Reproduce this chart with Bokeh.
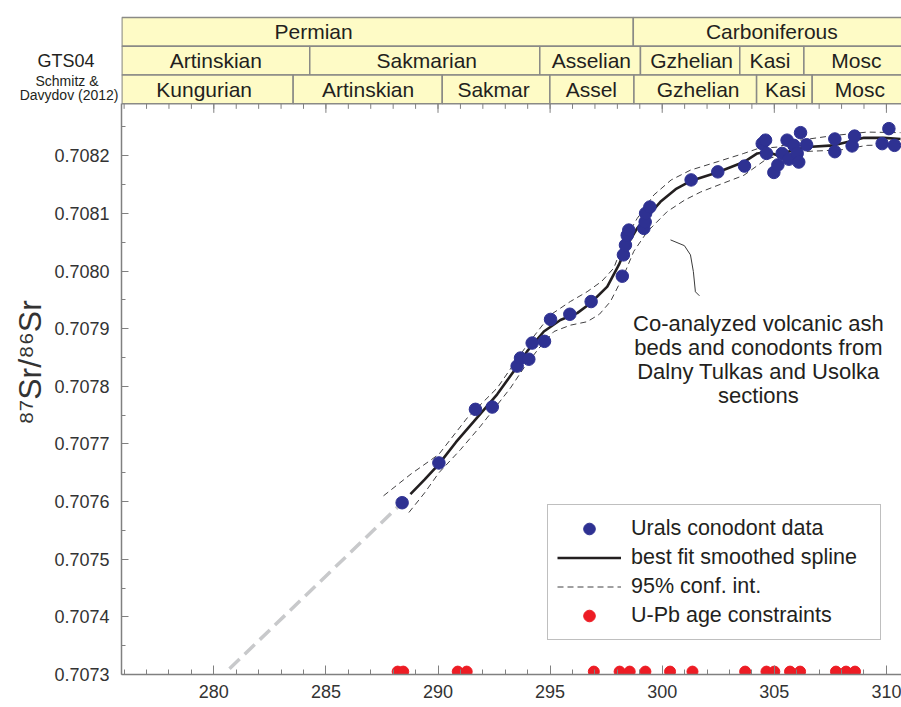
import json
import numpy as np
from bokeh.plotting import figure
from bokeh.models import (ColumnDataSource, FixedTicker, PrintfTickFormatter,
                          CustomJSTickFormatter, LinearAxis, Label, Legend, LegendItem)
from bokeh.core.properties import value
from bokeh.embed import file_html
from bokeh.resources import INLINE

# ---------------- data ----------------
# Urals conodont data (age Ma, 87Sr/86Sr)
cono_age = [288.40, 290.04, 291.67, 292.42, 293.53, 293.68, 294.05, 294.20, 294.75,
            295.02, 295.88, 296.83, 298.22, 298.27, 298.36, 298.44, 298.51, 299.18,
            299.24, 299.26, 299.45, 301.29, 302.48, 303.67, 304.46, 304.61, 304.65,
            304.98, 305.16, 305.35, 305.57, 305.65, 305.87, 306.02, 306.09, 306.17,
            306.44, 307.70, 307.70, 308.47, 308.58, 309.81, 310.11, 310.36]
cono_sr = [0.707598, 0.707667, 0.707760, 0.707764, 0.707835, 0.707849, 0.707847,
           0.707875, 0.707878, 0.707916, 0.707925, 0.707947, 0.707991, 0.708028,
           0.708045, 0.708062, 0.708071, 0.708074, 0.708085, 0.708100, 0.708111,
           0.708158, 0.708172, 0.708182, 0.708221, 0.708227, 0.708204, 0.708171,
           0.708184, 0.708204, 0.708227, 0.708194, 0.708218, 0.708204, 0.708189,
           0.708240, 0.708219, 0.708229, 0.708207, 0.708217, 0.708234, 0.708221,
           0.708247, 0.708218]

# best fit smoothed spline
spline_age = [288.77, 289.40, 290.04, 290.80, 291.60, 292.64, 293.38, 293.98, 294.72,
              295.46, 296.21, 296.80, 297.55, 298.07, 298.44, 298.88, 299.33, 299.92,
              300.60, 301.26, 302.45, 303.64, 304.24, 304.68, 305.13, 305.87, 306.47,
              307.65, 308.40, 308.99, 309.88, 310.63]
spline_sr = [0.707613, 0.707638, 0.707665, 0.707703, 0.707739, 0.707786, 0.707826,
             0.707861, 0.707895, 0.707915, 0.707927, 0.707944, 0.707973, 0.708011,
             0.708045, 0.708074, 0.708094, 0.708120, 0.708142, 0.708156, 0.708171,
             0.708189, 0.708204, 0.708207, 0.708201, 0.708210, 0.708215, 0.708218,
             0.708225, 0.708231, 0.708231, 0.708229]

# 95% confidence interval
upper_age = [287.57, 288.80, 290.04, 291.30, 292.64, 293.98, 295.02, 295.90, 296.65,
             297.30, 297.84, 298.29, 298.88, 299.63, 300.40, 301.26, 302.50, 303.64,
             304.24, 305.13, 306.17, 307.65, 309.14, 310.63]
upper_sr = [0.707610, 0.707648, 0.707682, 0.707745, 0.707797, 0.707872, 0.707924,
            0.707947, 0.707964, 0.707982, 0.708005, 0.708051, 0.708091, 0.708132,
            0.708158, 0.708175, 0.708190, 0.708204, 0.708212, 0.708215, 0.708227,
            0.708235, 0.708241, 0.708240]
lower_age = [288.70, 289.40, 290.04, 291.00, 291.90, 293.23, 293.83, 294.50, 295.17,
             295.90, 296.65, 297.20, 297.69, 298.29, 298.73, 299.33, 300.22, 301.00,
             301.71, 302.70, 303.64, 304.68, 306.17, 307.95, 309.14, 310.63]
lower_sr = [0.707581, 0.707615, 0.707650, 0.707690, 0.707731, 0.707797, 0.707832,
            0.707866, 0.707895, 0.707906, 0.707912, 0.707925, 0.707947, 0.707993,
            0.708034, 0.708068, 0.708103, 0.708123, 0.708137, 0.708152, 0.708166,
            0.708195, 0.708207, 0.708210, 0.708218, 0.708219]

# extrapolated trend (grey dashed)
extrap_age = [280.70, 288.40]
extrap_sr = [0.707310, 0.707598]

# U-Pb age constraints
upb_age = [288.20, 288.45, 290.88, 291.28, 296.95, 298.10, 298.55, 299.25, 300.35,
           301.35, 303.70, 304.65, 305.00, 305.70, 306.15, 307.75, 308.20, 308.60]
upb_sr = [0.707305] * len(upb_age)

# annotation pointer
pointer_age = [300.37, 300.99, 301.26, 301.39, 301.48, 301.66]
pointer_sr = [0.708054, 0.708044, 0.708028, 0.707999, 0.707964, 0.707957]

# time-scale header (boundaries in Ma)
period_names = ["Permian", "Carboniferous"]
period_start = [275.9, 298.71]
period_end = [298.71, 312.0]
period_label_x = [284.45, 304.89]

gts_names = ["Artinskian", "Sakmarian", "Asselian", "Gzhelian", "Kasi", "Mosc"]
gts_start = [275.9, 284.28, 294.54, 299.03, 303.46, 306.32]
gts_end = [284.28, 294.54, 299.03, 303.46, 306.32, 312.0]
gts_label_x = [280.09, 289.50, 296.84, 301.31, 304.81, 308.66]

sd_names = ["Kungurian", "Artinskian", "Sakmar", "Assel", "Gzhelian", "Kasi", "Mosc"]
sd_start = [275.9, 283.54, 290.19, 294.99, 298.74, 304.21, 306.69]
sd_end = [283.54, 290.19, 294.99, 298.74, 304.21, 306.69, 312.0]
sd_label_x = [279.57, 286.88, 292.48, 296.84, 301.60, 305.50, 308.82]

x_ticks = [280, 285, 290, 295, 300, 305, 310]
y_ticks = [0.7073, 0.7074, 0.7075, 0.7076, 0.7077, 0.7078, 0.7079, 0.7080, 0.7081, 0.7082]

# ---------------- styling / layout ----------------
FONT = "Liberation Sans"
TXT = "#231F20"
GRAY = "#808080"
X0, X1 = 275.883, 310.673
Y0, Y1 = 0.7073, 0.708445
HB = 0.70829      # bottom of header band (top of data area)
ROW = 0.00005     # header row height in data units
PX_Y = (Y1 - Y0) / 660.0  # data units per pixel (y)

p = figure(width=901, height=706, x_range=(X0, X1), y_range=(Y0, Y1),
           output_backend="svg", toolbar_location=None,
           min_border_left=121, min_border_right=0, min_border_top=14,
           min_border_bottom=32)
p.outline_line_color = None
p.xgrid.visible = False
p.ygrid.visible = False
p.background_fill_color = "white"

# header
rows = [(period_names, period_start, period_end, period_label_x, 2),
        (gts_names, gts_start, gts_end, gts_label_x, 1),
        (sd_names, sd_start, sd_end, sd_label_x, 0)]
for names, st, en, lx, r in rows:
    bottom = HB + r * ROW
    top = bottom + ROW
    src = ColumnDataSource(dict(left=st, right=en, name=names, lx=lx,
                                ly=[bottom + ROW / 2] * len(names),
                                bottom=[bottom] * len(names), top=[top] * len(names)))
    p.quad(left="left", right="right", bottom="bottom", top="top", source=src,
           fill_color="#FEFBC6", line_color="#8A8A86", line_width=1.5)
    p.text(x="lx", y="ly", text="name", source=src, text_font=value(FONT),
           text_font_size="21px", text_color=TXT, text_align="center",
           text_baseline="middle")

# ticks under header (inward)
minor_x = np.arange(276, 311, 1)
p.segment(x0=minor_x, x1=minor_x, y0=HB, y1=HB - 5 * PX_Y, line_color=GRAY, line_width=1)
p.segment(x0=x_ticks, x1=x_ticks, y0=HB, y1=HB - 9 * PX_Y, line_color=GRAY, line_width=1)

# data
p.line(extrap_age, extrap_sr, line_color="#C8C9CB", line_width=3.5, line_dash="14 7")
up = p.line(upper_age, upper_sr, line_color="#414042", line_width=1, line_dash="6 4")
p.line(lower_age, lower_sr, line_color="#414042", line_width=1, line_dash="6 4")
sp = p.line(spline_age, spline_sr, line_color=TXT, line_width=2.6)
bl = p.scatter(cono_age, cono_sr, size=12.5, fill_color="#2E3192", line_color="#2E3192")
rd = p.scatter(upb_age, upb_sr, size=11, fill_color="#ED1C24", line_color="#ED1C24")
p.line(pointer_age, pointer_sr, line_color="#3A3A3A", line_width=1)

# axes
xa = p.xaxis[0]
xa.ticker = FixedTicker(ticks=x_ticks, minor_ticks=list(minor_x))
ya = p.yaxis[0]
ya.ticker = FixedTicker(ticks=y_ticks,
                        minor_ticks=[round(v + 0.00005, 5) for v in y_ticks])
ya.formatter = PrintfTickFormatter(format="%.4f")
ya.bounds = (Y0, HB)
for ax in (xa, ya):
    ax.axis_line_color = GRAY
    ax.axis_line_width = 1.5
    ax.major_tick_line_color = GRAY
    ax.minor_tick_line_color = GRAY
    ax.major_tick_out = 0
    ax.minor_tick_out = 0
    ax.major_label_text_font = FONT
    ax.major_label_text_font_size = "18px"
    ax.major_label_text_color = "#333333"
xa.major_tick_in = 9
xa.minor_tick_in = 5
ya.major_tick_in = 7
ya.minor_tick_in = 4
xa.major_label_standoff = 10
ya.major_label_standoff = 12


def side_axis(text, yv, size, standoff, orientation="horizontal", color=TXT):
    """Extra left axis (stacked outward) whose single tick label is a side text;
    negative standoffs pull the labels back next to the frame."""
    ax = LinearAxis(ticker=FixedTicker(ticks=[yv], minor_ticks=[]),
                    formatter=CustomJSTickFormatter(code="return %s;" % json.dumps(text)),
                    axis_line_color=None, major_tick_line_color=None,
                    minor_tick_line_color=None, major_tick_in=0, major_tick_out=0,
                    minor_tick_in=0, minor_tick_out=0,
                    major_label_text_font=FONT, major_label_text_font_size=size,
                    major_label_text_color=color, major_label_standoff=standoff,
                    major_label_orientation=orientation)
    p.add_layout(ax, "left")


# time-scale row titles and y axis title
side_axis("GTS04", HB + 1.5 * ROW, "18px", -43)
side_axis("Schmitz &", HB + 0.81 * ROW, "14px", -64)
side_axis("Davydov (2012)", HB + 0.29 * ROW, "14px", -86)
side_axis("\u2078\u2077Sr/\u2078\u2076Sr", Y0 + 312 * PX_Y, "32px", -31,
          orientation="parallel", color="#333333")

# annotation
for i, line in enumerate(["Co-analyzed volcanic ash", "beds and conodonts from",
                          "Dalny Tulkas and Usolka", "sections"]):
    p.add_layout(Label(x=304.29, y=0.707909 - i * 24 * PX_Y, text=line, text_font=FONT,
                       text_font_size="22px", text_color=TXT, text_align="center",
                       text_baseline="middle"))

legend = Legend(items=[LegendItem(label="Urals conodont data", renderers=[bl]),
                       LegendItem(label="best fit smoothed spline", renderers=[sp]),
                       LegendItem(label="95% conf. int.", renderers=[up]),
                       LegendItem(label="U-Pb age constraints", renderers=[rd])],
                location=(426, 34))
legend.label_text_font = FONT
legend.label_text_font_size = "21.5px"
legend.label_text_color = TXT
legend.glyph_width = 64
legend.glyph_height = 29
legend.label_height = 29
legend.label_width = 240
legend.spacing = 0
legend.padding = 9
legend.label_standoff = 10
legend.margin = 0
legend.border_line_color = GRAY
legend.border_line_width = 1.5
legend.background_fill_color = "white"
legend.background_fill_alpha = 1.0
p.add_layout(legend)

open("out.html", "w").write(file_html(p, INLINE))
